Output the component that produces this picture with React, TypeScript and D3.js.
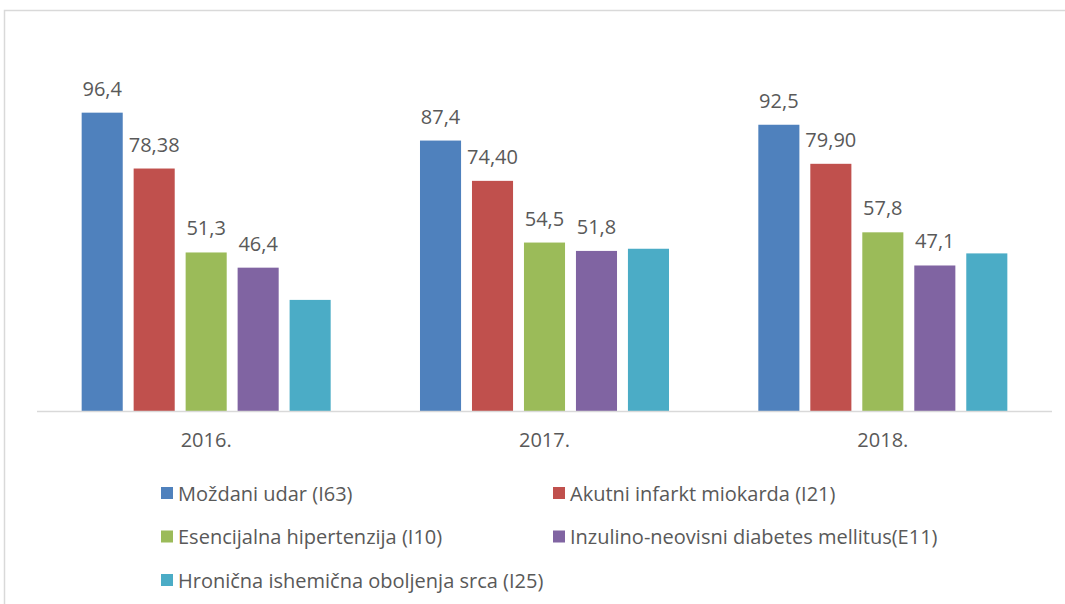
import * as React from "react";
import * as d3 from "d3";

const years = ["2016.", "2017.", "2018."];
const seriesNames = [
  "Moždani udar (I63)",
  "Akutni infarkt miokarda (I21)",
  "Esencijalna hipertenzija (I10)",
  "Inzulino-neovisni diabetes mellitus(E11)",
  "Hronična ishemična oboljenja srca (I25)",
];
const colors = ["#4f81bd", "#c0504d", "#9bbb59", "#8064a2", "#4bacc6"];

// values per series, one per year
const mozdani = [96.4, 87.4, 92.5];
const infarkt = [78.38, 74.4, 79.9];
const hipertenzija = [51.3, 54.5, 57.8];
const diabetes = [46.4, 51.8, 47.1];
const ishemicna = [36.0, 52.5, 51.0];
const seriesValues = [mozdani, infarkt, hipertenzija, diabetes, ishemicna];

// data labels as printed (last series has none)
const mozdaniLabels = ["96,4", "87,4", "92,5"];
const infarktLabels = ["78,38", "74,40", "79,90"];
const hipertenzijaLabels = ["51,3", "54,5", "57,8"];
const diabetesLabels = ["46,4", "51,8", "47,1"];
const seriesLabels = [mozdaniLabels, infarktLabels, hipertenzijaLabels, diabetesLabels, null];

const W = 1065, H = 604;
const baseY = 411.5;
const font = "'Open Sans', sans-serif";
const textColor = "#595959";

export default function App() {
  const x0 = d3.scaleBand().domain(years).range([37, 1052]).paddingInner(0.264).paddingOuter(0.132);
  const x1 = d3.scaleBand().domain(d3.range(seriesNames.length).map(String))
    .range([0, x0.bandwidth()]).paddingInner(0.21).paddingOuter(0);
  const y = d3.scaleLinear().domain([0, 100]).range([baseY, baseY - 310]);

  const legendRows = [493, 536.5, 580];
  const legendCols = [161, 553];

  return (
    <svg width={W} height={H} style={{ position: "absolute", left: 0, top: 0, background: "#fff" }}>
      <rect x={4.5} y={10.5} width={1200} height={800} fill="#fff" stroke="#d9d9d9" strokeWidth={1.5} />
      {years.map((yr, i) => (
        <g key={yr} transform={`translate(${x0(yr)},0)`}>
          {seriesValues.map((vals, s) => {
            const bx = x1(String(s))!;
            const top = y(vals[i]);
            const lbl = seriesLabels[s];
            return (
              <g key={s}>
                <rect x={bx} y={top} width={x1.bandwidth()} height={baseY - top} fill={colors[s]} />
                {lbl && (
                  <text x={bx + x1.bandwidth() / 2} y={top - 17} textAnchor="middle"
                    fontFamily={font} fontSize={20} fill={textColor}>{lbl[i]}</text>
                )}
              </g>
            );
          })}
          <text x={x0.bandwidth() / 2} y={447} textAnchor="middle" fontFamily={font} fontSize={20} fill={textColor}>{yr}</text>
        </g>
      ))}
      <line x1={37} x2={1052} y1={baseY} y2={baseY} stroke="#d9d9d9" strokeWidth={1.5} />
      {seriesNames.map((name, s) => {
        const lx = legendCols[s % 2];
        const ly = legendRows[Math.floor(s / 2)];
        return (
          <g key={name}>
            <rect x={lx} y={ly - 6} width={12} height={12} fill={colors[s]} />
            <text x={lx + 17} y={ly + 7.5} fontFamily={font} fontSize={20} fill={textColor}>{name}</text>
          </g>
        );
      })}
    </svg>
  );
}
